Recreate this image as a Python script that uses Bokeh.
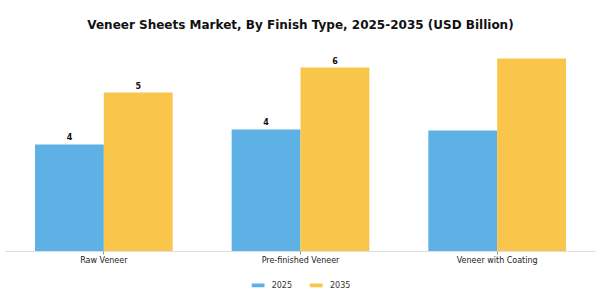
from bokeh.plotting import figure
from bokeh.models import Range1d, ColumnDataSource, Legend, LegendItem, LabelSet
from bokeh.layouts import column
from bokeh.transform import dodge
from bokeh.core.properties import value
from bokeh.embed import file_html
from bokeh.resources import INLINE

categories = ["Raw Veneer", "Pre-finished Veneer", "Veneer with Coating"]
values_2025 = [3.57, 4.07, 4.03]
values_2035 = [5.30, 6.13, 6.43]
labels_2025 = ["4", "4", ""]
labels_2035 = ["5", "6", ""]
series = ["2025", "2035"]

BLUE = "#5DB1E4"
YELLOW = "#F9C54B"
FONT = "DejaVu Sans"

src = ColumnDataSource(dict(cat=categories, v25=values_2025, v35=values_2035,
                            l25=labels_2025, l35=labels_2035))

p = figure(x_range=categories, y_range=Range1d(0, 7.1), width=600, height=270,
           output_backend="svg", toolbar_location=None,
           min_border_left=5, min_border_right=5, min_border_top=38, min_border_bottom=19)
p.title.text = "Veneer Sheets Market, By Finish Type, 2025-2035 (USD Billion)"
p.title.align = "center"
p.title.vertical_align = "top"
p.title.text_font = FONT
p.title.text_font_size = "12px"
p.title.text_font_style = "bold"
p.title.text_color = "#111111"

r1 = p.vbar(x=dodge("cat", -0.175, range=p.x_range), top="v25", width=0.35,
            source=src, fill_color=BLUE, line_color=None)
r2 = p.vbar(x=dodge("cat", 0.175, range=p.x_range), top="v35", width=0.35,
            source=src, fill_color=YELLOW, line_color=None)

for xo, col, lc in [(-0.175, "v25", "l25"), (0.175, "v35", "l35")]:
    lab = LabelSet(x=dodge("cat", xo, range=p.x_range), y=col,
                   text=lc, source=src,
                   y_offset=4, text_align="center", text_baseline="bottom",
                   text_font_size="8px", text_font_style="bold", text_color="#111111",
                   text_font=value(FONT))
    p.add_layout(lab)

p.yaxis.visible = False
p.xgrid.grid_line_color = None
p.ygrid.grid_line_color = None
p.outline_line_color = None
p.xaxis.axis_line_color = "#dddddd"
p.xaxis.major_tick_line_color = "#999999"
p.xaxis.major_tick_in = 0
p.xaxis.major_tick_out = 3
p.xaxis.minor_tick_line_color = None
p.xaxis.major_label_standoff = 1
p.xaxis.major_label_text_font = FONT
p.xaxis.major_label_text_font_size = "8px"
p.xaxis.major_label_text_color = "#222222"

# legend strip below the chart
lf = figure(width=600, height=30, x_range=(0, 1), y_range=(0, 1),
            output_backend="svg", toolbar_location=None,
            min_border_left=0, min_border_right=0, min_border_top=0, min_border_bottom=0)
lf.axis.visible = False
lf.grid.grid_line_color = None
lf.outline_line_color = None
lr1 = lf.vbar(x=[-10], top=[0], width=0.1, fill_color=BLUE, line_color=None)
lr2 = lf.vbar(x=[-10], top=[0], width=0.1, fill_color=YELLOW, line_color=None)

legend = Legend(items=[LegendItem(label=series[0], renderers=[lr1]),
                       LegendItem(label=series[1], renderers=[lr2])],
                orientation="horizontal", location="center")
legend.label_text_font = FONT
legend.label_text_font_size = "8px"
legend.label_text_color = "#333333"
legend.glyph_width = 16
legend.glyph_height = 5
legend.label_standoff = 6
legend.spacing = 16
legend.border_line_color = None
legend.background_fill_alpha = 0
legend.padding = 2
legend.margin = 0
lf.add_layout(legend, "center")

layout = column(p, lf, spacing=0)
open("out.html", "w").write(file_html(layout, INLINE))
